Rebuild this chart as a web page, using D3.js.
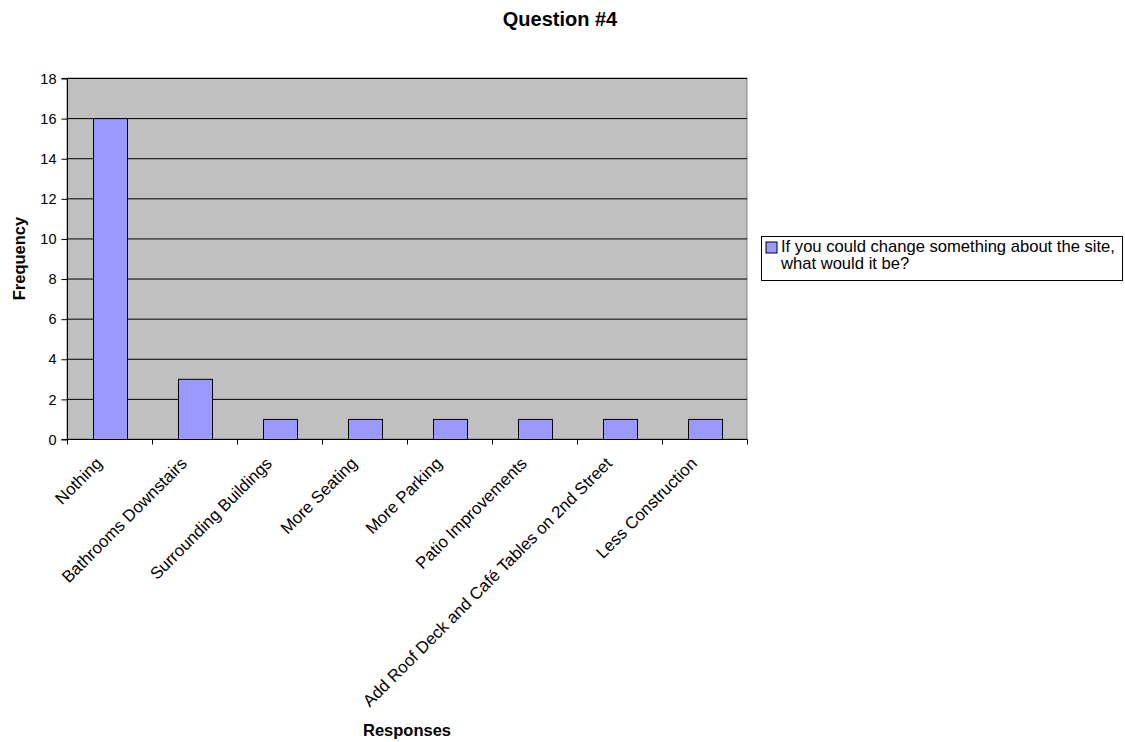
<!DOCTYPE html>
<html>
<head>
<meta charset="utf-8">
<script src="https://cdn.jsdelivr.net/npm/d3@7"></script>
<style>
  body { margin: 0; background: #fff; }
  svg { font-family: "Liberation Sans", Arial, sans-serif; }
</style>
</head>
<body>
<div id="chart"></div>
<script>
const categories = ['Nothing', 'Bathrooms Downstairs', 'Surrounding Buildings', 'More Seating',
    'More Parking', 'Patio Improvements', 'Add Roof Deck and Café Tables on 2nd Street', 'Less Construction'];
const values = [16, 3, 1, 1, 1, 1, 1, 1];
const yTicks = [0, 2, 4, 6, 8, 10, 12, 14, 16, 18];
const seriesName = ['If you could change something about the site,', 'what would it be?'];

const width = 1125, height = 742;
const margin = { top: 78, left: 67, right: 378, bottom: 303 };
const innerW = width - margin.left - margin.right;
const innerH = height - margin.top - margin.bottom;

const svg = d3.select('#chart').append('svg')
    .attr('width', width).attr('height', height);

const g = svg.append('g').attr('transform', `translate(${margin.left},${margin.top})`);

const x = d3.scaleBand().domain(categories).range([0, innerW]).paddingInner(0.6).paddingOuter(0.3);
const xBand = d3.scaleBand().domain(categories).range([0, innerW]);
const y = d3.scaleLinear().domain([0, 18]).range([innerH, 0]);

// plot background
g.append('rect')
    .attr('width', innerW).attr('height', innerH)
    .attr('fill', '#c0c0c0')
    .attr('stroke', '#808080').attr('stroke-width', 1);

// grid lines
g.append('g').selectAll('line')
    .data(yTicks.filter(t => t > 0))
    .join('line')
    .attr('x1', 0).attr('x2', innerW)
    .attr('y1', d => y(d) + 0.5).attr('y2', d => y(d) + 0.5)
    .attr('stroke', '#000').attr('stroke-width', 1);

// bars
g.append('g').selectAll('rect')
    .data(values)
    .join('rect')
    .attr('x', (d, i) => Math.round(x(categories[i])) + 0.5)
    .attr('y', d => y(d) + 0.5)
    .attr('width', Math.round(x.bandwidth()))
    .attr('height', d => innerH - y(d))
    .attr('fill', '#9999ff')
    .attr('stroke', '#000').attr('stroke-width', 1);

// y axis
const yAxis = d3.axisLeft(y).tickValues(yTicks).tickSize(6).tickPadding(5);
const yAxisG = g.append('g').attr('transform', 'translate(0.5,0.5)').call(yAxis);
yAxisG.select('.domain').attr('stroke', '#000').attr('d', `M-6,${innerH}H0V0H-6`);
yAxisG.selectAll('text').attr('font-size', 14.5).attr('fill', '#000')
    .attr('font-family', '"Liberation Sans", Arial, sans-serif');
yAxisG.selectAll('line').attr('stroke', '#000');

// x axis
const xAxisG = g.append('g').attr('transform', `translate(0.5,${innerH + 0.5})`);
xAxisG.append('line').attr('x1', 0).attr('x2', innerW).attr('stroke', '#000');
xAxisG.selectAll('.tick')
    .data(d3.range(categories.length + 1))
    .join('line')
    .attr('x1', i => Math.round(i * xBand.bandwidth())).attr('x2', i => Math.round(i * xBand.bandwidth()))
    .attr('y1', 0).attr('y2', 5)
    .attr('stroke', '#000');
xAxisG.selectAll('text')
    .data(categories)
    .join('text')
    .attr('transform', d => `translate(${xBand(d) + xBand.bandwidth() / 2 - 7},${25}) rotate(-45)`)
    .attr('text-anchor', 'end')
    .attr('font-size', 16.8)
    .attr('fill', '#000')
    .text(d => d);

// titles
svg.append('text')
    .attr('x', 560).attr('y', 26)
    .attr('text-anchor', 'middle')
    .attr('font-size', 20).attr('font-weight', 'bold')
    .text('Question #4');

svg.append('text')
    .attr('transform', `translate(25,${margin.top + innerH / 2}) rotate(-90)`)
    .attr('text-anchor', 'middle')
    .attr('font-size', 16.5).attr('font-weight', 'bold')
    .text('Frequency');

svg.append('text')
    .attr('x', margin.left + innerW / 2).attr('y', 736)
    .attr('text-anchor', 'middle')
    .attr('font-size', 16.5).attr('font-weight', 'bold')
    .text('Responses');

// legend
const legend = svg.append('g').attr('transform', 'translate(761.5,236.5)');
legend.append('rect')
    .attr('width', 361).attr('height', 44)
    .attr('fill', '#fff').attr('stroke', '#000');
legend.append('rect')
    .attr('x', 4.5).attr('y', 5.5).attr('width', 11).attr('height', 11)
    .attr('fill', '#9999ff').attr('stroke', '#000');
legend.append('text')
    .attr('font-size', 16.6)
    .selectAll('tspan')
    .data(seriesName)
    .join('tspan')
    .attr('x', 19.5)
    .attr('y', (d, i) => 15 + i * 17.5)
    .text(d => d);
</script>
</body>
</html>
